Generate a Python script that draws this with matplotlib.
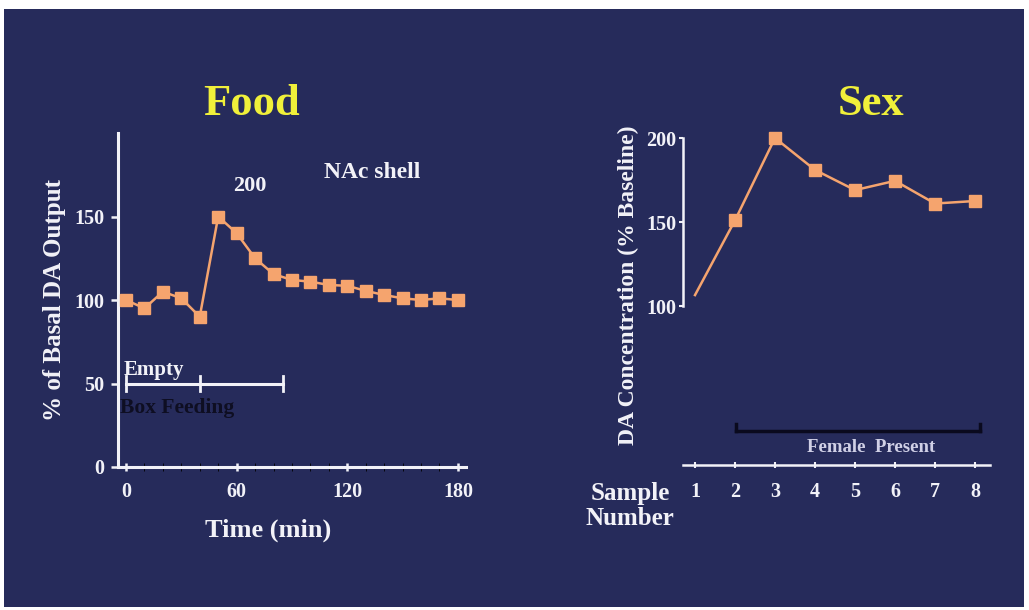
import matplotlib
matplotlib.use("Agg")
import matplotlib.pyplot as plt
from matplotlib.patches import Rectangle
import numpy as np

# ---- data ----
food_time = [0, 10, 20, 30, 40, 50, 60, 70, 80, 90, 100, 110, 120, 130, 140, 150, 160, 170, 180]
food_da = [100, 95, 105, 101, 90, 150, 140, 125, 115.5, 112, 111, 109, 108.5, 105.5, 103, 101, 100, 101, 100]
food_yticks = [0, 50, 100, 150]
food_xticks = [0, 60, 120, 180]

sex_sample = [1, 2, 3, 4, 5, 6, 7, 8]
sex_da = [106.5, 151, 200, 181, 169, 174.5, 161, 162.5]
sex_yticks = [100, 150, 200]

NAVY = "#262B5B"
ORANGE = "#F5A46E"
YELLOW = "#F0F03A"
WHITE = "#F2F2F8"

plt.rcParams['font.family'] = ['Liberation Serif', 'DejaVu Serif']
plt.rcParams['font.weight'] = 'bold'

W, H = 1029, 610
fig = plt.figure(figsize=(W / 100, H / 100), dpi=100)
fig.patch.set_facecolor('white')
fig.patches.append(Rectangle((4 / W, 3 / H), 1020 / W, (H - 12) / H,
                             transform=fig.transFigure, facecolor=NAVY,
                             edgecolor='none', zorder=-10))


def fx(px):
    return px / W


def fy(py):
    return (H - py) / H


# ---- left panel: Food ----
ax1 = fig.add_axes([fx(118), fy(467), (466 - 118) / W, (467 - 133) / H])
ax1.set_facecolor('none')
ax1.set_xlim(-4.34, 184.4)
ax1.set_ylim(0, 200)
for s in ['top', 'right']:
    ax1.spines[s].set_visible(False)
for s in ['left', 'bottom']:
    ax1.spines[s].set_color(WHITE)
    ax1.spines[s].set_linewidth(2.2)
ax1.set_xticks(food_xticks)
ax1.set_xticks(np.arange(0, 181, 10), minor=True)
ax1.set_yticks(food_yticks)
ax1.tick_params(axis='both', colors=WHITE, labelsize=14.5, width=1.8)
ax1.tick_params(axis='x', which='both', direction='inout', length=6, pad=8)
ax1.tick_params(axis='y', direction='out', length=5, pad=5)
ax1.plot(food_time, food_da, color=ORANGE, lw=1.8, marker='s', ms=8,
         mec=ORANGE, mfc=ORANGE, clip_on=False, zorder=3)
ax1.set_xlabel('Time (min)', color=WHITE, fontsize=19, fontweight='bold')
ax1.xaxis.set_label_coords((268 - 118) / 348, -(530 - 467) / 334)
ax1.xaxis.label.set_va('center')
ax1.set_ylabel('% of Basal DA Output', color=WHITE, fontsize=18, fontweight='bold')
ax1.yaxis.set_label_coords((66 - 118) / 348, (467 - 300) / 334)
ax1.text(133.4, 176.6, 'NAc shell', color=WHITE, fontsize=17, ha='center', va='center')
ax1.text(67.2, 168.3, '200', color=WHITE, fontsize=16, ha='center', va='center')
# Empty / Box Feeding bar
ax1.plot([0, 85], [50, 50], color=WHITE, lw=2.2, zorder=3)
for xb in [0, 40, 85]:
    ax1.plot([xb, xb], [45.5, 54.5], color=WHITE, lw=2, zorder=3)
ax1.text(-1.5, 58, 'Empty', color=WHITE, fontsize=15, ha='left', va='center')
ax1.text(-3.3, 35.3, 'Box Feeding', color='#0E0E22', fontsize=15.5, ha='left', va='center')
fig.text(fx(252), fy(104), 'Food', color=YELLOW, fontsize=32, fontweight='bold',
         ha='center', va='center')

# ---- right panel: Sex ----
ax2 = fig.add_axes([fx(683), fy(465), (990 - 683) / W, (465 - 137) / H])
ax2.set_facecolor('none')
ax2.set_xlim(0.7, 8.375)
ax2.set_ylim(5.36, 200.6)
for s in ['top', 'right']:
    ax2.spines[s].set_visible(False)
ax2.spines['left'].set_bounds(100, 200)
for s in ['left', 'bottom']:
    ax2.spines[s].set_color(WHITE)
    ax2.spines[s].set_linewidth(1.8)
ax2.set_xticks(sex_sample)
ax2.set_yticks(sex_yticks)
ax2.tick_params(axis='both', colors=WHITE, labelsize=14.5, width=1.5)
ax2.tick_params(axis='x', direction='inout', length=5, pad=10)
ax2.tick_params(axis='y', direction='out', length=3, pad=2)
ax2.plot(sex_sample, sex_da, color=ORANGE, lw=1.8, marker='s', ms=8,
         mec=ORANGE, mfc=ORANGE, markevery=list(range(1, 8)), clip_on=False, zorder=3)
ax2.set_ylabel('DA Concentration (% Baseline)', color=WHITE, fontsize=17,
               fontweight='bold')
ax2.yaxis.set_label_coords((639 - 683) / 307, (465 - 285) / 328)
# Female Present bracket
ax2.plot([2.02, 8.12], [25.6, 25.6], color='#0A0A1E', lw=2.5, zorder=3)
for xb in [2.02, 8.12]:
    ax2.plot([xb, xb], [25.6, 30], color='#0A0A1E', lw=2.5, zorder=3)
ax2.text(5.4, 16, 'Female  Present', color='#D0D0E6', fontsize=13.5,
         ha='center', va='center')
fig.text(fx(630), fy(506), 'Sample\nNumber', color=WHITE, fontsize=18,
         fontweight='bold', ha='center', va='center', linespacing=1.1)
fig.text(fx(871), fy(104), 'Sex', color=YELLOW, fontsize=32, fontweight='bold',
         ha='center', va='center')

fig.savefig('out.png', dpi=100, facecolor=fig.get_facecolor())
